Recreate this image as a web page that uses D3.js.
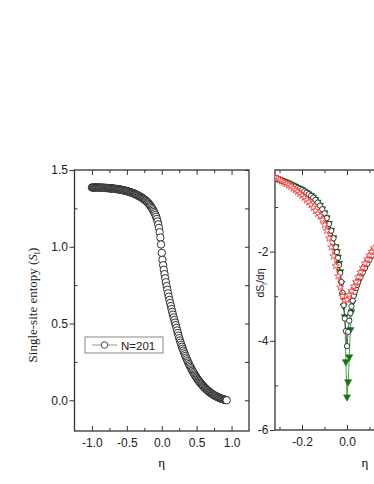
<!DOCTYPE html>
<meta charset="utf-8">
<body style="margin:0;background:#fff">
<script src="https://cdn.jsdelivr.net/npm/d3@7"></script>
<script>
// left panel: single-site entropy vs eta (N=201)
var etaL = [-1.00,-0.99,-0.98,-0.97,-0.96,-0.95,-0.94,-0.93,-0.92,-0.91,-0.90,-0.89,-0.88,-0.87,-0.86,-0.85,-0.84,
  -0.83,-0.82,-0.81,-0.80,-0.79,-0.78,-0.77,-0.76,-0.75,-0.74,-0.73,-0.72,-0.71,-0.70,-0.69,-0.68,-0.67,-0.66,-0.65,
  -0.64,-0.63,-0.62,-0.61,-0.60,-0.59,-0.58,-0.57,-0.56,-0.55,-0.54,-0.53,-0.52,-0.51,-0.50,-0.49,-0.48,-0.47,-0.46,
  -0.45,-0.44,-0.43,-0.42,-0.41,-0.40,-0.39,-0.38,-0.37,-0.36,-0.35,-0.34,-0.33,-0.32,-0.31,-0.30,-0.29,-0.28,-0.27,
  -0.26,-0.25,-0.24,-0.23,-0.22,-0.21,-0.20,-0.19,-0.18,-0.17,-0.16,-0.15,-0.14,-0.13,-0.12,-0.11,-0.10,-0.09,-0.08,
  -0.07,-0.06,-0.05,-0.04,-0.03,-0.02,-0.01,0.00,0.01,0.02,0.03,0.04,0.05,0.06,0.07,0.08,0.09,0.10,0.11,0.12,0.13,
  0.14,0.15,0.16,0.17,0.18,0.19,0.20,0.21,0.22,0.23,0.24,0.25,0.26,0.27,0.28,0.29,0.30,0.31,0.32,0.33,0.34,0.35,0.36,
  0.37,0.38,0.39,0.40,0.41,0.42,0.43,0.44,0.45,0.46,0.47,0.48,0.49,0.50,0.51,0.52,0.53,0.54,0.55,0.56,0.57,0.58,0.59,
  0.60,0.61,0.62,0.63,0.64,0.65,0.66,0.67,0.68,0.69,0.70,0.71,0.72,0.73,0.74,0.75,0.76,0.77,0.78,0.79,0.80,0.81,0.82,
  0.83,0.84,0.85,0.86,0.87,0.88,0.89,0.90,0.91,0.92,0.93];
var entropyL = [1.386,1.386,1.386,1.386,1.386,1.386,1.386,1.386,1.386,1.385,1.385,1.385,1.385,1.385,1.385,1.384,1.384,
  1.384,1.384,1.383,1.383,1.383,1.383,1.382,1.382,1.381,1.381,1.380,1.380,1.379,1.379,1.378,1.378,1.377,1.377,1.376,
  1.376,1.375,1.374,1.373,1.373,1.372,1.371,1.370,1.369,1.368,1.367,1.366,1.365,1.364,1.363,1.361,1.360,1.358,1.357,
  1.355,1.354,1.352,1.351,1.349,1.347,1.345,1.343,1.341,1.339,1.336,1.334,1.331,1.329,1.326,1.324,1.321,1.318,1.315,
  1.312,1.308,1.305,1.301,1.297,1.292,1.288,1.283,1.278,1.272,1.266,1.259,1.252,1.244,1.236,1.227,1.218,1.207,1.195,
  1.181,1.165,1.146,1.123,1.095,1.060,1.015,0.960,0.915,0.880,0.850,0.822,0.795,0.769,0.744,0.720,0.697,0.675,0.654,0.634,0.614,
  0.595,0.576,0.558,0.540,0.523,0.506,0.490,0.472,0.455,0.438,0.421,0.405,0.390,0.376,0.362,0.349,0.336,0.324,0.312,0.300,0.289,0.278,0.267,
  0.256,0.246,0.236,0.227,0.218,0.209,0.200,0.192,0.184,0.176,0.168,0.161,0.154,0.147,0.140,0.134,0.127,0.121,0.115,0.110,0.104,0.099,0.094,
  0.089,0.084,0.080,0.075,0.071,0.067,0.063,0.059,0.055,0.051,0.048,0.045,0.042,0.039,0.036,0.033,0.031,0.028,0.026,0.023,0.021,0.019,0.017,
  0.015,0.013,0.011,0.010,0.008,0.007,0.005,0.004,0.003,0.002,0.000];

// right panel: dS/deta
var etaR = [-0.32,-0.31,-0.30,-0.29,-0.28,-0.27,-0.26,-0.25,-0.24,-0.23,-0.22,-0.21,-0.20,-0.19,-0.18,-0.17,-0.16,
  -0.15,-0.14,-0.13,-0.12,-0.11,-0.10,-0.09,-0.08,-0.07,-0.06,-0.05,-0.045,-0.04,-0.035,-0.03,-0.025,-0.02,-0.015,
  -0.01,-0.005,0,0.005,0.01,0.015,0.02,0.025,0.03,0.035,0.04,0.045,0.05,0.06,0.07,0.08,0.09,0.10,0.11,0.12];
var dsN201 = [-0.35,-0.37,-0.39,-0.41,-0.43,-0.45,-0.47,-0.495,-0.52,-0.545,-0.57,-0.595,-0.62,-0.65,-0.68,-0.715,-0.75,
  -0.79,-0.84,-0.90,-0.97,-1.05,-1.14,-1.25,-1.38,-1.53,-1.70,-1.90,-2.01,-2.14,-2.30,-2.48,-2.68,-2.92,-3.20,
  -3.50,-3.78,-4.12,-3.80,-3.55,-3.38,-3.23,-3.10,-2.99,-2.90,-2.82,-2.75,-2.68,-2.57,-2.47,-2.37,-2.27,-2.18,-2.09,-2.00];
var dsGreen = [-0.34,-0.36,-0.38,-0.40,-0.42,-0.44,-0.46,-0.485,-0.51,-0.535,-0.56,-0.585,-0.61,-0.64,-0.67,-0.705,-0.74,
  -0.78,-0.83,-0.89,-0.96,-1.04,-1.13,-1.24,-1.37,-1.52,-1.69,-1.89,-2.00,-2.12,-2.26,-2.45,-2.71,-2.97,-3.22,
  -3.46,-4.47,-5.26,-4.92,-4.36,-3.75,-3.35,-3.14,-3.00,-2.90,-2.82,-2.75,-2.68,-2.56,-2.46,-2.36,-2.26,-2.17,-2.08,-1.99];
var etaRed = [-0.32,-0.31,-0.30,-0.29,-0.28,-0.27,-0.26,-0.25,-0.24,-0.23,-0.22,-0.21,-0.20,-0.19,-0.18,-0.17,-0.16,
  -0.15,-0.14,-0.13,-0.12,-0.11,-0.10,-0.09,-0.08,-0.07,-0.06,-0.05,-0.04,-0.03,-0.02,-0.01,0.00,0.01,0.02,0.03,
  0.04,0.05,0.06,0.07,0.08,0.09,0.10,0.11,0.12];
var dsRed = [-0.33,-0.36,-0.39,-0.42,-0.45,-0.48,-0.51,-0.54,-0.58,-0.62,-0.66,-0.70,-0.74,-0.79,-0.84,-0.89,-0.95,
  -1.01,-1.08,-1.15,-1.20,-1.29,-1.40,-1.53,-1.70,-1.90,-2.10,-2.32,-2.55,-2.80,-3.00,-3.10,-3.08,-2.97,-2.88,-2.78,
  -2.68,-2.57,-2.46,-2.36,-2.26,-2.17,-2.08,-2.00,-1.92];

var xMajorL = [-1, -0.5, 0, 0.5, 1], xMinorL = [-0.75, -0.25, 0.25, 0.75];
var yMajorL = [0, 0.5, 1, 1.5], yMinorL = [0.25, 0.75, 1.25];
var xMajorR = [-0.2, 0], xMinorR = [-0.3, -0.1, 0.1];
var yMajorR = [-6, -4, -2], yMinorR = [-5, -3, -1];

var W = 374, H = 484;
var svg = d3.select("body").append("svg").attr("width", W).attr("height", H)
  .style("font-family", "'Liberation Sans', Arial, sans-serif");

var fmt1 = d3.format(".1f");
function minus(s) { return s.replace("\u2212", "-"); }

// ---------- left panel ----------
var L = {l: 74.5, r: 249, t: 170, b: 431};
var xL = d3.scaleLinear().domain([-1.25, 1.25]).range([L.l, L.r]);
var yL = d3.scaleLinear().domain([-0.2, 1.5]).range([L.b, L.t]);

function ticks(g, axis) {
  g.call(axis);
  g.select(".domain").remove();
  g.selectAll(".tick line").attr("stroke", "#333").attr("stroke-width", 1);
  g.selectAll(".tick text").attr("fill", "#222").style("font-size", "12px");
}

var gl = svg.append("g");
ticks(gl.append("g").attr("transform", "translate(0," + L.b + ")"),
  d3.axisBottom(xL).tickValues(xMajorL).tickSize(-5).tickPadding(7.5).tickFormat(function(d){ return minus(fmt1(d)); }));
ticks(gl.append("g").attr("transform", "translate(0," + L.b + ")"),
  d3.axisBottom(xL).tickValues(xMinorL).tickSize(-3).tickFormat(""));
ticks(gl.append("g").attr("transform", "translate(0," + L.t + ")"),
  d3.axisTop(xL).tickValues(xMajorL).tickSize(-5).tickFormat(""));
ticks(gl.append("g").attr("transform", "translate(0," + L.t + ")"),
  d3.axisTop(xL).tickValues(xMinorL).tickSize(-3).tickFormat(""));
ticks(gl.append("g").attr("transform", "translate(" + L.l + ",0)"),
  d3.axisLeft(yL).tickValues(yMajorL).tickSize(5).tickPadding(1.5).tickFormat(fmt1));
ticks(gl.append("g").attr("transform", "translate(" + L.l + ",0)"),
  d3.axisLeft(yL).tickValues(yMinorL).tickSize(-3).tickFormat(""));
ticks(gl.append("g").attr("transform", "translate(" + L.r + ",0)"),
  d3.axisRight(yL).tickValues(yMajorL.concat(yMinorL)).tickSize(-4).tickFormat(""));

gl.append("rect").attr("x", L.l).attr("y", L.t).attr("width", L.r - L.l).attr("height", L.b - L.t)
  .attr("fill", "none").attr("stroke", "#333").attr("stroke-width", 1.3);

var lineL = d3.line().x(function(i){ return xL(etaL[i]); }).y(function(i){ return yL(entropyL[i]); });
gl.append("path").attr("d", lineL(d3.range(etaL.length)))
  .attr("fill", "none").attr("stroke", "#777").attr("stroke-width", 0.8);
gl.selectAll("circle.pt").data(d3.range(etaL.length)).enter().append("circle")
  .attr("cx", function(i){ return xL(etaL[i]); })
  .attr("cy", function(i){ return yL(entropyL[i]); })
  .attr("r", 3.7).attr("fill", "#fff").attr("stroke", "#1a1a1a").attr("stroke-width", 0.9);

// legend
var lg = gl.append("g");
lg.append("rect").attr("x", 85).attr("y", 337).attr("width", 78).attr("height", 16)
  .attr("fill", "#fff").attr("stroke", "#888").attr("stroke-width", 1);
lg.append("line").attr("x1", 92).attr("x2", 117).attr("y1", 345).attr("y2", 345)
  .attr("stroke", "#777").attr("stroke-width", 0.8);
lg.append("circle").attr("cx", 104.5).attr("cy", 345).attr("r", 3.3)
  .attr("fill", "#fff").attr("stroke", "#222").attr("stroke-width", 0.8);
lg.append("text").attr("x", 121).attr("y", 349.5).text("N=201")
  .style("font-size", "11.5px").attr("fill", "#222");

gl.append("text").attr("x", (L.l + L.r) / 2).attr("y", 467).attr("text-anchor", "middle")
  .style("font-family", "'Liberation Serif', serif").style("font-size", "13px").text("\u03b7");
var yl = gl.append("text").attr("transform", "translate(37,305) rotate(-90)").attr("text-anchor", "middle")
  .style("font-family", "'Liberation Serif', serif").style("font-size", "13px").attr("fill", "#222");
yl.append("tspan").text("Single-site entopy (");
yl.append("tspan").style("font-style", "italic").text("S");
yl.append("tspan").attr("dy", 3).style("font-size", "8px").text("l");
yl.append("tspan").attr("dy", -3).text(")");

// ---------- right panel ----------
var R = {l: 275, t: 170, b: 430};
var xR = d3.scaleLinear().domain([-0.32, 0.2]).range([R.l, R.l + 0.52 * 225]);
var yR = d3.scaleLinear().domain([-6, -0.17]).range([R.b, R.t]);
var R_r = xR(0.2);

var gr = svg.append("g");
ticks(gr.append("g").attr("transform", "translate(0," + R.b + ")"),
  d3.axisBottom(xR).tickValues(xMajorR).tickSize(-5).tickPadding(7.5).tickFormat(function(d){ return minus(fmt1(d)); }));
ticks(gr.append("g").attr("transform", "translate(0," + R.b + ")"),
  d3.axisBottom(xR).tickValues(xMinorR).tickSize(-3).tickFormat(""));
ticks(gr.append("g").attr("transform", "translate(0," + R.t + ")"),
  d3.axisTop(xR).tickValues(xMajorR).tickSize(-5).tickFormat(""));
ticks(gr.append("g").attr("transform", "translate(0," + R.t + ")"),
  d3.axisTop(xR).tickValues(xMinorR).tickSize(-3).tickFormat(""));
ticks(gr.append("g").attr("transform", "translate(" + R.l + ",0)"),
  d3.axisLeft(yR).tickValues(yMajorR).tickSize(5).tickPadding(1.5).tickFormat(function(d){ return minus(d3.format("d")(d)); }));
ticks(gr.append("g").attr("transform", "translate(" + R.l + ",0)"),
  d3.axisLeft(yR).tickValues(yMinorR).tickSize(-3).tickFormat(""));

gr.append("rect").attr("x", R.l).attr("y", R.t).attr("width", R_r - R.l).attr("height", R.b - R.t)
  .attr("fill", "none").attr("stroke", "#333").attr("stroke-width", 1.3);

svg.append("clipPath").attr("id", "clipR").append("rect")
  .attr("x", R.l).attr("y", R.t).attr("width", R_r - R.l).attr("height", R.b - R.t);
var plot = gr.append("g").attr("clip-path", "url(#clipR)");

function series(xs, ys, color, sym, size, fill, stroke, rot) {
  var idx = d3.range(xs.length);
  var ln = d3.line().x(function(i){ return xR(xs[i]); }).y(function(i){ return yR(ys[i]); });
  plot.append("path").attr("d", ln(idx)).attr("fill", "none").attr("stroke", color).attr("stroke-width", 0.8);
  plot.append("g").selectAll("path").data(idx).enter().append("path")
    .attr("d", d3.symbol().type(sym).size(size))
    .attr("transform", function(i){ return "translate(" + xR(xs[i]) + "," + yR(ys[i]) + ") rotate(" + rot + ")"; })
    .attr("fill", fill).attr("stroke", stroke).attr("stroke-width", 0.8);
}
series(etaR, dsGreen, "#1d8a1d", d3.symbolTriangle, 20, "#157515", "#157515", 180);
series(etaR, dsN201, "#333", d3.symbolCircle, 22, "#fff", "#111", 0);
series(etaRed, dsRed, "#f44", d3.symbolStar, 16, "#fff", "#f33", 0);

gr.append("text").attr("x", 365).attr("y", 467).attr("text-anchor", "middle")
  .style("font-family", "'Liberation Serif', serif").style("font-size", "13px").text("\u03b7");
var yr = gr.append("text").attr("transform", "translate(264,283) rotate(-90)").attr("text-anchor", "middle")
  .style("font-size", "10.5px").attr("fill", "#222");
yr.append("tspan").text("dS");
yr.append("tspan").attr("dy", 3).style("font-size", "7px").text("l");
yr.append("tspan").attr("dy", -3).text("/d\u03b7");
</script>
</body>
